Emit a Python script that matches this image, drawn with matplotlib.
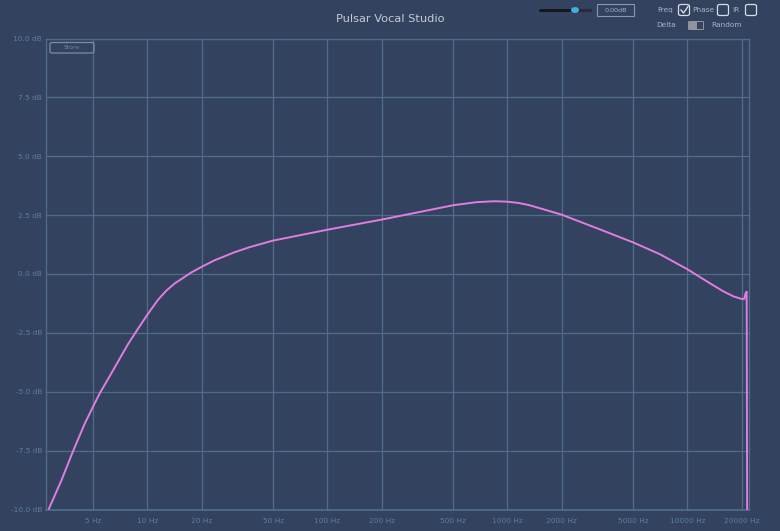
import matplotlib
matplotlib.use("Agg")
import matplotlib.pyplot as plt
from matplotlib.patches import FancyBboxPatch, Rectangle, Circle
from matplotlib.lines import Line2D

# ---- data ----
freq_hz = [2.84, 3.34, 3.88, 4.50, 5.05, 5.45, 6.32, 7.81, 8.87, 10.0, 11.45, 12.7,
           14.2, 17.5, 20.0, 23.6, 30.4, 37.0, 50.0, 100.0, 200.0, 500.0, 674.0, 850.0,
           1000.0, 1145.0, 1328.0, 2000.0, 3126.0, 5000.0, 7030.0, 10000.0,
           13370.0, 15850.0, 17990.0, 20000.0, 20660.0, 21030.0, 21320.0, 21480.0]
gain_db = [-9.97, -8.75, -7.5, -6.34, -5.56, -5.06, -4.21, -2.98, -2.33, -1.73, -1.1,
           -0.72, -0.4, 0.06, 0.3, 0.58, 0.92, 1.14, 1.42, 1.88, 2.31, 2.92, 3.05, 3.09,
           3.07, 3.02, 2.92, 2.52, 1.95, 1.34, 0.84, 0.2,
           -0.4, -0.74, -0.95, -1.06, -1.06, -0.82, -0.75, -12.0]

x_ticks = [5, 10, 20, 50, 100, 200, 500, 1000, 2000, 5000, 10000, 20000]
x_tick_labels = ["5 Hz", "10 Hz", "20 Hz", "50 Hz", "100 Hz", "200 Hz", "500 Hz",
                 "1000 Hz", "2000 Hz", "5000 Hz", "10000 Hz", "20000 Hz"]
y_ticks = [-10.0, -7.5, -5.0, -2.5, 0.0, 2.5, 5.0, 7.5, 10.0]
y_tick_labels = ["-10.0 dB", "-7.5 dB", "-5.0 dB", "-2.5 dB", "0.0 dB", "2.5 dB",
                 "5.0 dB", "7.5 dB", "10.0 dB"]

title = "Pulsar Vocal Studio"

# ---- style ----
BG = "#33435f"
GRID = "#4f6c8a"
TICK = "#5d7c9e"
CURVE = "#e07de0"
W, H = 780, 531

fig = plt.figure(figsize=(W / 100, H / 100), dpi=100, facecolor=BG)

def fx(px):
    return px / W

def fy(py):
    return 1 - py / H

left, right, top, bottom = 45.5, 749.3, 38.5, 509.5
ax = fig.add_axes([fx(left), fy(bottom), fx(right - left), (bottom - top) / H])
ax.set_facecolor(BG)
ax.set_xscale("log")
ax.set_xlim(2.72, 22050)
ax.set_ylim(-10, 10)

ax.plot(freq_hz, gain_db, color=CURVE, lw=1.4, solid_joinstyle="round", zorder=3)

ax.set_xticks(x_ticks)
ax.set_xticklabels(x_tick_labels)
ax.xaxis.set_minor_locator(matplotlib.ticker.NullLocator())
ax.set_yticks(y_ticks)
ax.set_yticklabels(y_tick_labels)
ax.tick_params(axis="both", length=0, colors=TICK, labelsize=5.3)
ax.tick_params(axis="x", pad=6)
ax.tick_params(axis="y", pad=2.5)
ax.grid(True, color=GRID, lw=0.9)
for s in ax.spines.values():
    s.set_color(GRID)
    s.set_linewidth(0.9)
ax.spines["bottom"].set_linewidth(1.3)

# Store button
store = FancyBboxPatch((fx(50), fy(53)), fx(44), 10.5 / H,
                       boxstyle="round,pad=0,rounding_size=0.003",
                       transform=fig.transFigure, fill=False, ec="#7d8ea3", lw=0.9)
fig.add_artist(store)
fig.text(fx(72), fy(47.8), "Store", color="#6f86a3", fontsize=4.3, ha="center", va="center")

# title
fig.text(fx(390), fy(19), title, color="#c3cad4", fontsize=8.2, ha="center", va="center")

# slider
fig.add_artist(Line2D([fx(540), fx(590)], [fy(10), fy(10)], transform=fig.transFigure,
                      color="#141820", lw=2.2, solid_capstyle="round"))
fig.add_artist(Line2D([fx(578), fx(590)], [fy(10), fy(10)], transform=fig.transFigure,
                      color="#262c38", lw=2.2, solid_capstyle="round"))
fig.add_artist(Circle((fx(575), fy(10)), 3.3 / W, transform=fig.transFigure,
                      color="#3fb0e0", zorder=5))
fig.add_artist(Rectangle((fx(597), fy(16)), fx(37), 12 / H, transform=fig.transFigure,
                         fill=False, ec="#8a98aa", lw=0.8))
fig.text(fx(615.5), fy(10), "0.00dB", color="#a9b4c2", fontsize=4.6, ha="center", va="center")

# checkboxes
LAB = "#aab4c2"
fig.text(fx(665), fy(10), "Freq", color=LAB, fontsize=5.3, ha="center", va="center")
fig.text(fx(703), fy(10), "Phase", color=LAB, fontsize=5.3, ha="center", va="center")
fig.text(fx(736), fy(10), "IR", color=LAB, fontsize=5.3, ha="center", va="center")
for cx in (684, 723, 751):
    fig.add_artist(FancyBboxPatch((fx(cx - 5.5), fy(15.5)), fx(11), 11 / H,
                                  boxstyle="round,pad=0,rounding_size=0.003",
                                  transform=fig.transFigure, fill=False,
                                  ec="#d6dce4", lw=0.9))
fig.add_artist(Line2D([fx(681), fx(683.5), fx(688)], [fy(10), fy(13), fy(6.5)],
                      transform=fig.transFigure, color="#d6dce4", lw=1.0))
fig.text(fx(666), fy(25.5), "Delta", color=LAB, fontsize=5.3, ha="center", va="center")
fig.text(fx(727), fy(25.5), "Random", color=LAB, fontsize=5.3, ha="center", va="center")
fig.add_artist(FancyBboxPatch((fx(688), fy(30)), fx(16), 9 / H,
                              boxstyle="round,pad=0,rounding_size=0.002",
                              transform=fig.transFigure, fc="#8f939a", ec="none"))
fig.add_artist(Rectangle((fx(697), fy(29)), fx(6), 7 / H, transform=fig.transFigure,
                         fc="#33435f", ec="none"))

fig.savefig("out.png", dpi=100, facecolor=BG)
